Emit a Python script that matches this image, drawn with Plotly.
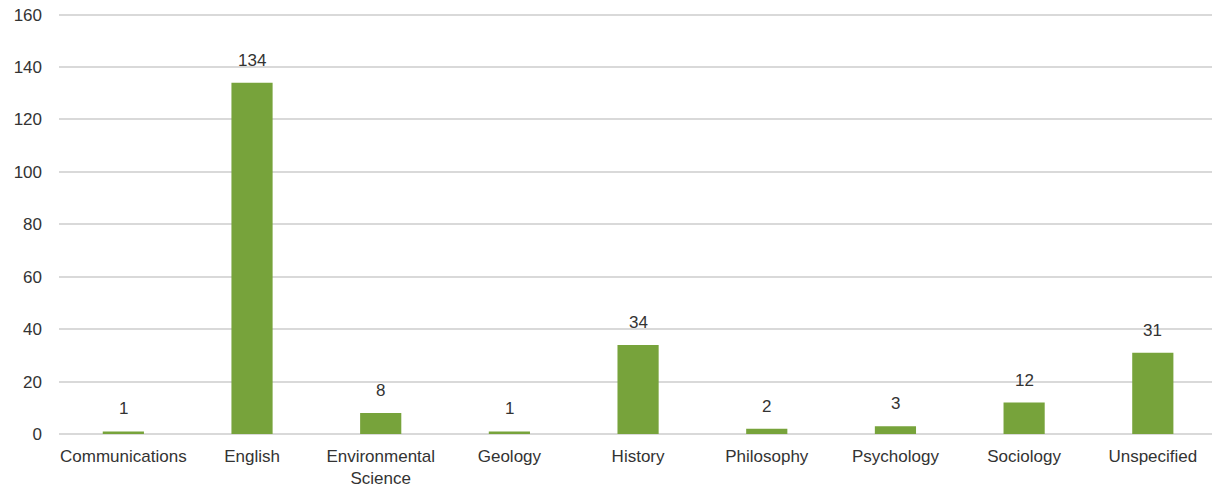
import plotly.graph_objects as go

categories = ["Communications", "English", "Environmental<br>Science", "Geology", "History",
              "Philosophy", "Psychology", "Sociology", "Unspecified"]
values = [1, 134, 8, 1, 34, 2, 3, 12, 31]
y_ticks = [0, 20, 40, 60, 80, 100, 120, 140, 160]

FONT = "Liberation Sans, Arial, sans-serif"
TXT = "#333333"

fig = go.Figure(go.Bar(
    x=categories, y=values,
    marker=dict(color="#77A33B", line=dict(width=0)),
    cliponaxis=False,
))

for c, v in zip(categories, values):
    fig.add_annotation(x=c, y=v, text=str(v), showarrow=False, yanchor="bottom",
                       yshift=11, font=dict(size=17, color=TXT, family=FONT))

fig.update_layout(
    width=1212, height=489,
    margin=dict(l=59, r=0, t=12, b=55),
    paper_bgcolor="white", plot_bgcolor="white",
    font=dict(family=FONT, size=17, color=TXT),
    bargap=0.68,
    showlegend=False,
)
fig.update_xaxes(range=[-0.5, 8.46], showgrid=False, showline=False, ticks="",
                 tickfont=dict(size=17), ticklabelstandoff=10, automargin=False)
fig.update_yaxes(range=[0, 161], tickvals=y_ticks, showgrid=True, gridcolor="#d9d9d9",
                 gridwidth=2, zeroline=True, zerolinecolor="#d9d9d9", zerolinewidth=2,
                 showline=False, ticks="", ticklabelstandoff=16, tickfont=dict(size=17),
                 automargin=False)

fig.write_html("out.html", config={"displayModeBar": False},
               post_script="document.body.style.margin='0';document.body.style.overflow='hidden';")
